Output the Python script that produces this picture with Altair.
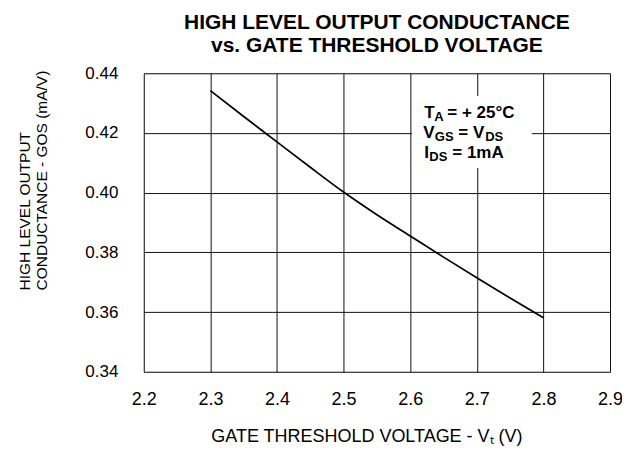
import altair as alt
import pandas as pd

# ---- data ----
vt = [2.3, 2.35, 2.4, 2.45, 2.5, 2.55, 2.6, 2.65, 2.7, 2.75, 2.8]
gos = [0.4342, 0.4255, 0.4170, 0.4085, 0.4002, 0.3926, 0.3855, 0.3784, 0.3715, 0.3647, 0.3581]

x_ticks = [2.2, 2.3, 2.4, 2.5, 2.6, 2.7, 2.8, 2.9]
y_ticks = [0.34, 0.36, 0.38, 0.40, 0.42, 0.44]

title_lines = ["HIGH LEVEL OUTPUT CONDUCTANCE", "vs. GATE THRESHOLD VOLTAGE"]
x_title = "GATE THRESHOLD VOLTAGE - V\u209c (V)"
y_title = ["HIGH LEVEL OUTPUT", "CONDUCTANCE - GOS (mA/V)"]

# annotation pieces: (text, is_subscript)
line1 = [("T", False), ("A", True), ("= + 25\u00b0C", False)]
line2 = [("V", False), ("GS", True), ("= V", False), ("DS", True)]
line3 = [("I", False), ("DS", True), ("= 1mA", False)]

FONT = "Liberation Sans"
W, H = 467, 299

df = pd.DataFrame({"vt": vt, "gos": gos})

base = alt.Chart(df)

curve = base.mark_line(color="black", strokeWidth=1.7, interpolate="monotone").encode(
    x=alt.X(
        "vt:Q",
        scale=alt.Scale(domain=[2.2, 2.9], nice=False, zero=False),
        axis=alt.Axis(
            values=x_ticks,
            format=".1f",
            grid=True,
            gridColor="#111",
            gridWidth=1,
            gridOpacity=1,
            domain=False,
            ticks=False,
            labelFontSize=18,
            labelFont=FONT,
            labelColor="black",
            labelBaseline="middle",
            labelPadding=28,
            labelFlush=False,
            labelOverlap=False,
            title=x_title,
            titleFont=FONT,
            titleFontSize=18,
            titleFontWeight="normal",
            titleColor="black",
            titleX=223,
            titleY=65,
            titleAlign="center",
            titleBaseline="middle",
        ),
    ),
    y=alt.Y(
        "gos:Q",
        scale=alt.Scale(domain=[0.34, 0.44], nice=False, zero=False),
        axis=alt.Axis(
            values=y_ticks,
            format=".2f",
            grid=True,
            gridColor="#111",
            gridWidth=1,
            gridOpacity=1,
            domain=False,
            ticks=False,
            labelFontSize=17,
            labelFont=FONT,
            labelColor="black",
            labelBaseline="middle",
            labelAlign="right",
            labelPadding=26,
            labelFlush=False,
            labelOverlap=False,
            title=y_title,
            titleFont=FONT,
            titleFontSize=15.5,
            titleFontWeight="normal",
            titleColor="black",
            titleAngle=270,
            titleAlign="left",
            titleBaseline="middle",
            titleLineHeight=17,
            titleX=-119,
            titleY=217,
        ),
    ),
)

# white box behind the condition text (interrupts the grid)
box = base.mark_rect(color="white").encode(
    x=alt.value(269), x2=alt.value(388), y=alt.value(23), y2=alt.value(95)
)

layers = [curve, box]

def add_line(pieces, xs, base_y):
    for (txt, sub), xp in zip(pieces, xs):
        layers.append(
            alt.Chart(pd.DataFrame({"t": [txt]}))
            .mark_text(
                font=FONT,
                fontWeight="bold",
                fontSize=13 if sub else 17,
                align="left",
                baseline="alphabetic",
                color="black",
            )
            .encode(
                text="t:N",
                x=alt.value(xp),
                y=alt.value(base_y + (3 if sub else 0)),
            )
        )

add_line(line1, [281, 291, 304], 45.3)
add_line(line2, [280, 291.5, 315, 342], 65.3)
add_line(line3, [281, 286, 309], 85.3)

chart = (
    alt.layer(*layers)
    .properties(
        width=W,
        height=H,
        autosize=alt.AutoSizeParams(type="none"),
        padding={"left": 136, "top": 65, "right": 12, "bottom": 76},
        title=alt.TitleParams(
            text=title_lines,
            font=FONT,
            fontSize=21,
            fontWeight="bold",
            color="black",
            lineHeight=23,
            anchor="middle",
            frame="group",
            offset=8,
        ),
    )
    .configure_view(stroke="black", strokeWidth=2)
    .configure(background="white")
)

chart.save("out.html", embed_options={"renderer": "svg", "actions": False})
